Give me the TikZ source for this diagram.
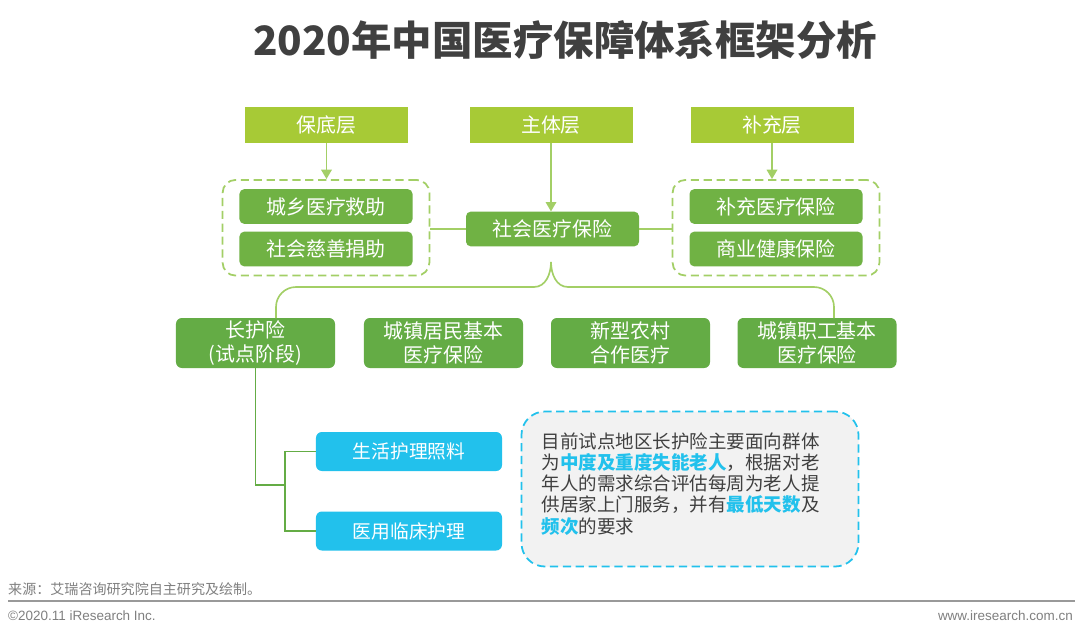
\documentclass[tikz,border=0pt]{standalone}
\usepackage{fontspec}
\setmainfont{Noto Sans CJK SC}
\newfontfamily\latinfont{Liberation Sans}
\usetikzlibrary{arrows.meta,positioning,fit}
\definecolor{layer}{HTML}{A7CA36}
\definecolor{item}{HTML}{70B244}
\definecolor{branch}{HTML}{64AC45}
\definecolor{care}{HTML}{22C1EC}
\definecolor{wire}{HTML}{A3CF66}
\definecolor{textgray}{HTML}{404040}
\definecolor{notebg}{HTML}{F2F2F2}
\definecolor{footgray}{HTML}{808080}
\newcommand{\keyterm}[1]{{\bfseries\color{care}#1}}

\begin{document}
\begin{tikzpicture}[x=0.03cm, y=-0.03cm,
    layerbox/.style={fill=layer, text=white, minimum width=4.89cm, minimum height=1.08cm,
        inner sep=0pt, font=\fontsize{17}{20}\selectfont},
    itembox/.style={fill=item, text=white, rounded corners=4pt, minimum width=5.19cm,
        minimum height=1.04cm, inner sep=0pt, font=\fontsize{17}{20}\selectfont},
    branchbox/.style={fill=branch, text=white, rounded corners=5pt, minimum width=4.77cm,
        minimum height=1.5cm, inner sep=0pt, align=center, font=\fontsize{17}{20.5}\selectfont},
    carebox/.style={fill=care, text=white, rounded corners=5pt, minimum width=5.58cm,
        minimum height=1.17cm, inner sep=0pt, font=\fontsize{16}{19}\selectfont},
    groupbox/.style={draw=wire, line width=1.5pt, dash pattern=on 7pt off 4pt,
        rounded corners=11pt, inner xsep=0.5cm, inner ysep=0.27cm},
    wireline/.style={draw=wire, line width=1.4pt},
    arrowline/.style={wireline, -{Triangle[length=8pt,width=9pt]}},
    branchline/.style={draw=branch, line width=1.3pt},
]
    \fill[white] (0,0) rectangle (1080,636);
    \useasboundingbox (0,0) rectangle (1080,636);

    % 标题
    \node[font=\fontsize{34.5}{38}\selectfont\bfseries, text=textgray] (title) at (565,40)
        {2020年中国医疗保障体系框架分析};

    % 三个层级
    \node[layerbox] (base) at (326.5,125) {保底层};
    \node[layerbox] (main) at (551,125) {主体层};
    \node[layerbox] (supp) at (772,125) {补充层};

    % 第二行
    \node[itembox] (aid) at (326,206.5) {城乡医疗救助};
    \node[itembox] (charity) at (326,249) {社会慈善捐助};
    \node[itembox] (social) at (552.5,229) {社会医疗保险};
    \node[itembox] (suppins) at (776,206.5) {补充医疗保险};
    \node[itembox] (commins) at (776,249) {商业健康保险};
    \node[groupbox, fit=(aid)(charity)] (lgroup) {};
    \node[groupbox, fit=(suppins)(commins)] (rgroup) {};

    \draw[arrowline] (base.south) -- (base.south |- lgroup.north);
    \draw[arrowline] (main.south) -- (main.south |- social.north);
    \draw[arrowline] (supp.south) -- (supp.south |- rgroup.north);
    \draw[wireline] (social.west) -- (social.west -| lgroup.east);
    \draw[wireline] (social.east) -- (social.east -| rgroup.west);

    % 社会医疗保险的四类
    \node[branchbox] (ltc) at (255.5,343) {长护险\\(试点阶段)};
    \node[branchbox] (urban) at (443.5,343) {城镇居民基本\\医疗保险};
    \node[branchbox] (rural) at (630.5,343) {新型农村\\合作医疗};
    \node[branchbox] (worker) at (817,343) {城镇职工基本\\医疗保险};

    \coordinate (cusp) at (551,262);
    \coordinate (lfoot) at (276,318);
    \coordinate (rfoot) at (834,318);
    \draw[wireline] (lfoot) -- ++(0,-11) to[out=90,in=180] ++(20,-20) -- (534,287)
        to[out=0,in=-90] (cusp) to[out=-90,in=180] (568,287) -- (814,287)
        to[out=0,in=90] ++(20,20) -- (rfoot);

    % 长护险服务
    \node[carebox] (care1) at (409,451.5) {生活护理照料};
    \node[carebox] (care2) at (409,531) {医用临床护理};
    \coordinate (jn) at (285,485);
    \draw[branchline] (ltc.south) |- (jn);
    \draw[branchline] (care1.west) -| (jn) |- (care2.west);

    % 说明框
    \node[draw=care, fill=notebg, line width=1.5pt, dash pattern=on 7pt off 4pt,
        rounded corners=20pt, minimum width=10.11cm, minimum height=4.65cm] (note) at (690,489) {};
    \node[anchor=west, align=left, inner sep=0pt, text=textgray,
        font=\fontsize{15.8}{18}\selectfont] (notetxt) at ([xshift=0.63cm,yshift=0.15cm]note.west)
        {目前试点地区长护险主要面向群体\\
         为\keyterm{中度及重度失能老人}，根据对老\\
         年人的需求综合评估每周为老人提\\
         供居家上门服务，并有\keyterm{最低天数}及\\
         \keyterm{频次}的要求};

    % 页脚
    \node[anchor=west, inner sep=0pt, text=footgray, font=\fontsize{12}{14}\selectfont]
        (source) at (8,589) {来源：艾瑞咨询研究院自主研究及绘制。};
    \draw[draw=footgray!80, line width=2pt] (8,601) -- (1075,601);
    \node[anchor=west, inner sep=0pt, text=footgray, font=\latinfont\fontsize{11.5}{13}\selectfont]
        (copy) at (8,616) {©2020.11 iResearch Inc.};
    \node[anchor=east, inner sep=0pt, text=footgray, font=\latinfont\fontsize{11.5}{13}\selectfont]
        (site) at (1073,616) {www.iresearch.com.cn};
\end{tikzpicture}
\end{document}
